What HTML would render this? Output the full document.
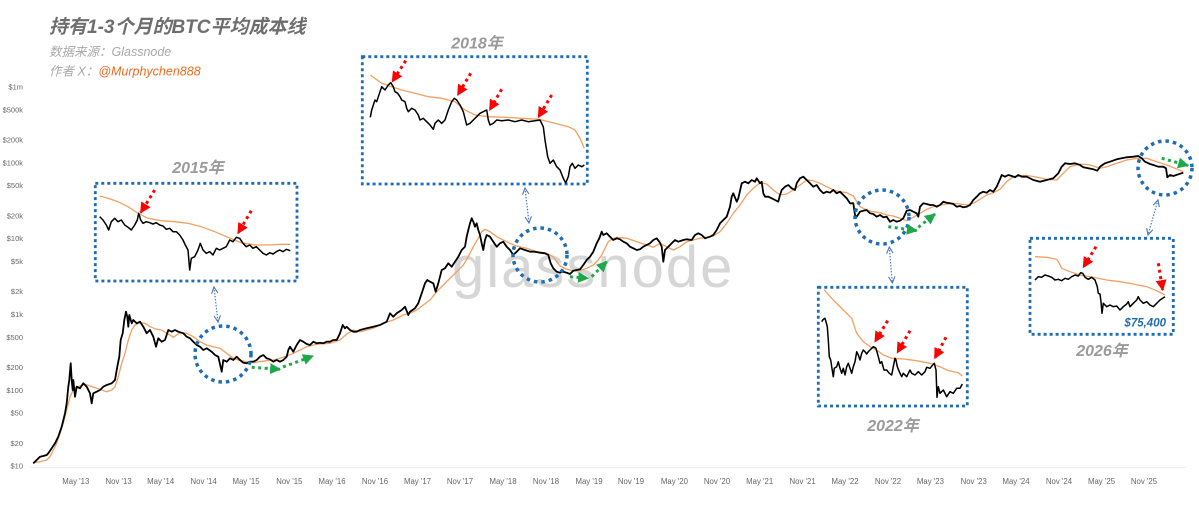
<!DOCTYPE html>
<html><head><meta charset="utf-8">
<style>
html,body{margin:0;padding:0;background:#fff;}
svg{display:block;}
.ti{font-family:"Liberation Sans","Noto Sans CJK SC",sans-serif;}
</style></head>
<body>
<svg width="1199" height="505" viewBox="0 0 1199 505" xmlns="http://www.w3.org/2000/svg">
<defs>
<marker id="rh" viewBox="0 0 10 10" refX="9" refY="5" markerWidth="11" markerHeight="11" markerUnits="userSpaceOnUse" orient="auto"><path d="M0,0 L10,5 L0,10 z" fill="#f00"/></marker>
<marker id="gh" viewBox="0 0 10 10" refX="9" refY="5" markerWidth="11" markerHeight="11" markerUnits="userSpaceOnUse" orient="auto"><path d="M0,0 L10,5 L0,10 z" fill="#1fa84a"/></marker>
<marker id="ch" viewBox="0 0 10 10" refX="9" refY="5" markerWidth="8" markerHeight="8" markerUnits="userSpaceOnUse" orient="auto-start-reverse"><path d="M1,1 L9,5 L1,9" fill="none" stroke="#4f78b5" stroke-width="1.4"/></marker>
</defs>
<rect width="1199" height="505" fill="#fff"/>

<!-- watermark -->
<text x="452" y="287" class="ti" font-size="58" letter-spacing="2" fill="#d6d6d6">glassnode</text>

<!-- title -->
<text x="49" y="33" class="ti" font-size="19" font-weight="bold" font-style="italic" fill="#6e6e6e">持有1-3个月的BTC平均成本线</text>
<text x="49" y="56" class="ti" font-size="12.5" font-style="italic" fill="#a9a9a9">数据来源：Glassnode</text>
<text x="49" y="75.5" class="ti" font-size="12.5" font-style="italic" fill="#a9a9a9">作者 X：<tspan fill="#f26a1f">@Murphychen888</tspan></text>

<!-- y axis -->
<g class="ti" font-size="7.5" fill="#666" text-anchor="end">
<text x="23" y="89.5">$1m</text>
<text x="23" y="112.5">$500k</text>
<text x="23" y="142.5">$200k</text>
<text x="23" y="165.5">$100k</text>
<text x="23" y="188">$50k</text>
<text x="23" y="218.5">$20k</text>
<text x="23" y="241">$10k</text>
<text x="23" y="264">$5k</text>
<text x="23" y="294">$2k</text>
<text x="23" y="317">$1k</text>
<text x="23" y="340">$500</text>
<text x="23" y="370">$200</text>
<text x="23" y="393">$100</text>
<text x="23" y="415.5">$50</text>
<text x="23" y="446">$20</text>
<text x="23" y="468.5">$10</text>
</g>
<line x1="30" y1="467.5" x2="1186" y2="467.5" stroke="#efefef" stroke-width="1"/>

<!-- x axis -->
<g class="ti" font-size="7.8" fill="#666" text-anchor="middle">
<text x="75.8" y="484">May '13</text>
<text x="118.6" y="484">Nov '13</text>
<text x="160.7" y="484">May '14</text>
<text x="203.6" y="484">Nov '14</text>
<text x="246" y="484">May '15</text>
<text x="289.3" y="484">Nov '15</text>
<text x="332" y="484">May '16</text>
<text x="375" y="484">Nov '16</text>
<text x="417.5" y="484">May '17</text>
<text x="460" y="484">Nov '17</text>
<text x="503" y="484">May '18</text>
<text x="546" y="484">Nov '18</text>
<text x="589" y="484">May '19</text>
<text x="631" y="484">Nov '19</text>
<text x="674.4" y="484">May '20</text>
<text x="717" y="484">Nov '20</text>
<text x="759.7" y="484">May '21</text>
<text x="802.6" y="484">Nov '21</text>
<text x="845" y="484">May '22</text>
<text x="888" y="484">Nov '22</text>
<text x="930.4" y="484">May '23</text>
<text x="973.7" y="484">Nov '23</text>
<text x="1016" y="484">May '24</text>
<text x="1059" y="484">Nov '24</text>
<text x="1101.5" y="484">May '25</text>
<text x="1144" y="484">Nov '25</text>
</g>

<!-- main orange -->
<polyline fill="none" stroke="#f3a061" stroke-width="1.3" stroke-linejoin="round" points="33.3,462.7 40,461.7 46.7,460 50,456.7 53.3,450 56.7,443.3 60,433.3 63.3,423.3 66.7,410 70,396.7 73.3,390 76.7,386.7 80,386 85,384.3 90,386 96.7,388.3 101.7,390 106.7,391.7 111.7,390 115,386.7 118.3,376.7 121.7,363.3 125,353.3 128.3,340 131.7,330 135,325 140,322.7 145,323.3 150,326.7 156.7,329.3 161.7,330 166.7,333.3 170,335 173.3,337.3 176.7,335 180,332.7 186.7,333.3 193.3,336.7 200,341.7 206.7,345 213.3,346.7 220,348.3 226.7,353.3 233.3,358.3 240,360.7 246.7,361.7 253.3,362.7 260,361.7 266.7,360.7 273.3,360 280,358.3 286.7,356 293.3,353.3 300,350 306.7,346.7 313.3,345 320,344 330,343.3 340,340 346.7,334 353.3,330 360,331.7 366.7,330 373.3,328.3 383.3,323.3 393.3,320 403.3,315 410,313.3 416.7,310 423.3,305 430,300 436.7,291.7 443.3,285 450,278.3 456.7,271.7 463.3,265 468.3,256.7 473.3,246.7 478.3,238.3 481.7,231.7 485,229.3 490,231.7 496.7,236.7 503.3,240 510,243.3 516.7,246 526.7,248.3 536.7,251.7 546.7,253.3 553.3,256.7 556.7,261.7 560,266 566.7,269.3 573.3,270.7 580,270.7 586.7,268.3 593.3,265 598.3,260 601.7,255 605,248.3 608.3,241.7 611.7,239.3 616.7,237.3 626.7,238.3 636.7,241.7 646.7,245 653.3,247.3 660,243.5 666.7,246.7 673.3,250 680,246.7 686.7,241.7 693.3,240 700,238.3 706.7,237.3 713.3,236 720,231.7 726.7,223.3 733.3,213.3 740,205 746.7,195 753.3,188.3 760,182.7 766.7,184 773.3,190 780,195 786.7,194 793.3,190 800,185 806.7,180 813.3,180.7 820,183.3 826.7,186.7 833.3,190 840,191.7 846.7,192.7 853.3,196 860,206.7 866.7,210 873.3,211.7 880,212.7 886.7,215 893.3,216 900,218.3 906.7,220.7 913.3,217.3 920,213.3 926.7,209.3 933.3,206.7 940,205 946.7,204 953.3,203.3 960,204 966.7,205 973.3,203.3 980,199.3 986.7,195 993.3,192.7 1000,189.3 1006.7,181.7 1013.3,176.7 1020,175.5 1026.7,175.5 1033.3,176.5 1046.7,179.3 1056.7,180 1063.3,173.3 1070,166.7 1080,164 1090,165 1100,168.3 1106.7,166.7 1116.7,163.3 1126.7,160 1136.7,158.3 1146.7,158.3 1156.7,161.7 1166.7,165 1175,168.3 1183.3,171.7"/>

<!-- main black -->
<polyline fill="none" stroke="#000" stroke-width="1.8" stroke-linejoin="round" points="33.3,463.3 36.7,460 40,456.7 43.3,456 46.7,455 48.3,453.3 51.7,448.3 55,443.3 58.3,436.7 61.7,426.7 65,413.3 66.7,403.3 68.3,386.7 69.3,380 70.7,363.3 71.7,380 72.7,390 73.3,380 75,396.7 76.7,386.7 80,388.3 83.3,383.3 86.7,386.7 90,393.3 91.7,403.3 93.3,393.3 96.7,391.7 100,390 103.3,386.7 106.7,385 111.7,383.3 115,380 117.3,366.7 119.3,356.7 120.7,340 122.7,333.3 124.3,320 126,311.7 127.3,316.7 128.3,326.7 129.3,315 131.7,323.3 133.3,320 136.7,323.3 140,321.7 143.3,326.7 146.7,333.3 150,330 153.3,336.7 156,346.7 158.3,338.3 161.7,341.7 165,340 168.3,330 171.7,331.7 175,330 178.3,331.7 183.3,333.3 186.7,336.7 190,338.3 193.3,341.7 196.7,345 200,346.7 203.3,350 206.7,348.3 211.7,351.7 215,355 218.3,356.7 221.7,371.7 223.3,360 226.7,361.7 230,358.3 233.3,360 236.7,356.7 240,360 243.3,362.7 246.7,363.3 250,361.7 253.3,361.7 256.7,360 260,356.7 263.3,355 266.7,358.3 270,359.3 273.3,361.7 276.7,360 280,361.7 283.3,360 286.7,356.7 288.3,350 290,346.7 293.3,351.7 296.7,345 300,340 303.3,341.7 306.7,344 310,345 313.3,341.7 316.7,343.3 320,342.7 323.3,343.3 326.7,341.7 330,341.7 333.3,340 336.7,340 340,333.3 342.7,325 345,328.3 346.7,326.7 350,330 353.3,331.7 356.7,331.7 360,330 366.7,328.3 373.3,326.7 380,325 386.7,321.7 390,313.3 393.3,316.7 396.7,313.3 401.7,310 405,306.7 408.3,315 410,311.7 415,308.3 418.3,303.3 421.7,293.3 425,283.3 427.3,280 430,281.7 433.3,283.3 435.7,291.7 438.3,283.3 440,276.7 441.7,270 445,268.3 448.3,263.3 451.7,266.7 455,261.7 458.3,256.7 461.7,250 465,246.7 466.7,236.7 468.3,230 470,223.3 471.7,218.3 473.3,221.7 475,226.7 476.7,223.3 478.3,230 480,235 481.7,243.3 483.3,250 485,240 486.7,235 490,236.7 493.3,241.7 496.7,246.7 500,243.3 503.3,241.7 506.7,246.7 510,250 513.3,255 516.7,251.7 520,248.3 525,250 530,251.7 535,251.7 540,252.7 545,253.3 548.3,255 550.7,263.3 553.3,268.3 556.7,271.7 560,272.7 563.3,271.7 566.7,272.7 570,274 573.3,270.7 576.7,270 580,269.3 583.3,265 586.7,260 590,256.7 593.3,251.7 596.7,243.3 599.3,238.3 601.7,231.7 603.3,235 606.7,233.3 610,236.7 613.3,240 616.7,238.3 620,239.3 623.3,241.7 626.7,243.3 630,246.7 633.3,248.3 636.7,250 640,249.3 643.3,246.7 646.7,245 650,243.3 653.3,240 656.7,238.3 660,242.7 661.7,246.7 663.3,261.7 665,250 668.3,246.7 671.7,243.3 675,240 678.3,241.7 683.3,240 686.7,239.3 691.7,240 695,235 698.3,233.3 701.7,235 705,238.3 710,236.7 713.3,235 716.7,230 720,223.3 723.3,220 726.7,216.7 730,206.7 731.7,196.7 733.3,193.3 736.7,201.7 738.3,198.3 741.7,183.3 745,181.7 748.3,183.3 751.7,180 755,181.7 756.7,178.3 760,183.3 761.7,181.7 763.3,193.3 765,196.7 768.3,196.7 771.7,198.3 775,200 778.3,201.7 780,195 781.7,190 785,186.7 788.3,185 791.7,188.3 795,190 796.7,183.3 800,178.3 803.3,176.7 806.7,180 810,183.3 813.3,186.7 816.7,185 820,190 823.3,193.3 826.7,191.7 830,192.7 833.3,190 836.7,193.3 840,191.7 843.3,195 846.7,198.3 850,203.3 853.3,203.3 855,215 856.7,216.7 860,211.7 863.3,210.7 866.7,210 870,213.3 873.3,214 876.7,216.7 880,215 883.3,217.3 886.7,216.7 890,221.7 893.3,220 896.7,221.7 900,220.7 903.3,218.3 906.7,210.7 910,210 913.3,211.7 916.7,213.3 918.3,216.7 920,206.7 923.3,203.3 926.7,204 930,205 933.3,205 936.7,206.7 940,205 943.3,201.7 946.7,202.7 950,203.3 953.3,204 956.7,206.7 960,206 963.3,207.3 966.7,206.7 970,205 973.3,200 976.7,196.7 980,193.3 983.3,191.7 986.7,192.7 990,190 993.3,191.7 996.7,186.7 1000,179.3 1001.7,175 1005,176.7 1008.3,175 1011.7,176 1015,177.3 1018.3,175 1021.7,176.7 1026.7,176.7 1033.3,180 1040,181.7 1046.7,180 1053.3,178.3 1058.3,173.3 1061.7,166.7 1065,163.3 1070,164 1075,163.3 1080,165 1083.3,167.3 1088.3,168.3 1093.3,169.3 1097.3,170.7 1100,166.7 1105,163.3 1110,161.7 1116.7,159.3 1121.7,158.3 1126.7,157.3 1133.3,156.7 1138.3,156 1141.7,158.3 1145,161.7 1150,164 1153.3,165 1158.3,166.7 1163.3,166.7 1166,168.3 1167.3,177.3 1170,175 1173.3,176 1178.3,174.3 1183.3,172.7"/>

<!-- circles -->
<g fill="none" stroke="#1f6db3" stroke-width="3.5" stroke-dasharray="3.5 4">
<circle cx="223" cy="354" r="28"/>
<circle cx="540" cy="255" r="27"/>
<circle cx="882" cy="217" r="27"/>
<circle cx="1165" cy="168" r="27"/>
</g>

<!-- connectors -->
<g stroke="#4f78b5" stroke-width="1.2" stroke-dasharray="1.5 1.5" fill="none" marker-start="url(#ch)" marker-end="url(#ch)">
<line x1="214" y1="287" x2="218" y2="322"/>
<line x1="525" y1="188" x2="529" y2="223"/>
<line x1="889.3" y1="247" x2="892.3" y2="283"/>
<line x1="1158" y1="200" x2="1148" y2="235"/>
</g>

<!-- green arrows -->
<g stroke="#1fa84a" stroke-width="3" stroke-dasharray="3 3.5" fill="none" marker-end="url(#gh)">
<line x1="251.7" y1="367.3" x2="280" y2="369.3"/>
<line x1="283" y1="367" x2="313" y2="356"/>
<line x1="570" y1="276.7" x2="588" y2="278.3"/>
<line x1="591.7" y1="276.7" x2="606.7" y2="261.7"/>
<line x1="888.3" y1="226.7" x2="916.7" y2="230.7"/>
<line x1="918.3" y1="227.3" x2="935" y2="214"/>
<line x1="1161.7" y1="158.3" x2="1188" y2="165.5"/>
</g>

<!-- inset boxes -->
<g fill="#fff" stroke="#1f6db3" stroke-width="2.8" stroke-dasharray="3 3">
<rect x="95.3" y="183.3" width="201.7" height="97.7"/>
<rect x="362.3" y="56.7" width="225" height="127.3"/>
<rect x="818.3" y="287.3" width="149" height="118.7"/>
<rect x="1030" y="238.3" width="143.3" height="96"/>
</g>

<!-- 2015 inset -->
<polyline fill="none" stroke="#f3a061" stroke-width="1.3" points="99.7,196 108,198.3 118,201.7 128,206.7 138,213.3 148,218.3 161.3,220.7 174.7,221.7 188,223.3 201.3,226.7 214.7,231.7 228,237.3 241.3,242.7 254.7,245 268,245 281.3,244.3 290.3,244.3"/>
<polyline fill="none" stroke="#000" stroke-width="1.5" stroke-linejoin="round" points="99.7,216.7 103,220 106.3,225 108.7,230 111.3,221.7 114.7,218.3 118,221.7 121.3,220 124.7,225 128,227.3 131.3,230 134.7,225 137.3,220 138.7,213.3 140.7,220 143,223.3 146.3,221.7 149.7,222.7 153,224 156.3,222.7 159.7,225 163,226 166.3,229.3 169.7,228.3 173,231.7 176.3,231.7 179.7,235 183,240 185.3,245 188,250 189.7,270 191.3,258.3 194.7,256.7 198,250 200.3,243.3 203,250 206.3,253.3 209.7,251.7 213,255 216.3,248.3 219.7,250 223,248.3 226.3,246.7 229.7,240 233,241.7 236.3,237.3 239.7,238.3 243,243.3 246.3,246.7 249.7,245 253,248.3 256.3,246.7 259.7,250 263,253.3 266.3,255 269.7,252.7 273,254 276.3,251.7 279.7,250 283,251.7 286.3,249.3 290.3,250.7"/>

<!-- 2018 inset -->
<polyline fill="none" stroke="#f3a061" stroke-width="1.3" points="370.3,75 381.7,83.3 391.7,86.7 401.7,90 415,93.3 428.3,96.7 441.7,98.3 455,101.7 465,110 475,115 488.3,116.7 505,117.3 521.7,118.3 538.3,119.3 555,123.3 568.3,126.7 575,130 580,138.3 584.3,148.3"/>
<polyline fill="none" stroke="#000" stroke-width="1.5" stroke-linejoin="round" points="370.3,117.3 371.7,110 375,100 376.7,101.7 380,91.7 381.7,86.7 385,90 388.3,85 390.7,82.7 393.3,86.7 395,91.7 397.7,93.3 400,96.7 401.7,100 405,101.7 406.7,108.3 408.3,111.7 411.7,108.3 415,110 418.3,115 420,120 423.3,118.3 426.7,121.7 430,125 433.3,129.3 435,123.3 438.3,120 441.7,123.3 445,120 448.3,110 451.7,101.7 454.3,98.3 456.7,100 460,105 463.3,111.7 466.7,125 470,123.3 473.3,120 476.7,116.7 480,113.3 483.3,111.7 486.7,110 488.3,120 490,125 493.3,123.3 496.7,120 501.7,120.7 508.3,120 515,121.7 521.7,120 528.3,121.7 535,120.7 540,120 543.3,126.7 545,140 547.7,156.7 550,163.3 553.3,160 556.7,166.7 560,170 563.3,178.3 565.7,183 568.3,176.7 570,166.7 572.3,163.3 575,168.3 578.3,165 581.7,166.7 584.3,165"/>

<!-- 2022 inset -->
<polyline fill="none" stroke="#f3a061" stroke-width="1.3" points="824.3,290 833.3,300 843.3,310 851.7,318.3 856.7,333.3 863.3,341.7 870,346.7 876.7,350 883.3,355 891.7,358.3 903.3,359 916.7,360.7 930,363.3 940,366.7 946.7,370 953.3,371.7 958.3,372.7 962.3,376"/>
<polyline fill="none" stroke="#000" stroke-width="1.5" stroke-linejoin="round" points="821.7,321.7 823.3,319.3 825,318.3 826,321.7 827.3,326.7 828.3,340 829.3,356.7 830.7,360 831.7,366.7 833.3,376.7 834.3,368.3 836.7,366.7 838.3,361.7 840,368.3 841.7,373.3 843.3,368.3 845,375 846.7,366.7 848.3,363.3 850,368.3 851.7,373.3 853.3,366.7 855,361.7 856.7,351.7 858.3,355 860,360 861.7,353.3 863.3,350 865,351.7 866.7,354 868.3,351.7 870,350 873.3,346.7 876,348.3 878.3,356.7 880,363.3 881.7,361.7 884,370 886.7,370 889.3,373.3 891.7,375 893.3,366.7 895,358.3 896,360 897.3,366.7 899.3,371.7 901.7,376.7 903.3,373.3 906.7,376.7 910,370 911.7,373.3 915,375 918.3,371.7 921.7,375 925,371.7 926.7,367.3 930,368.3 932.7,365 934.3,363.3 936,370 937,397.3 938.3,386.7 940,393.3 943.3,390 946.7,396.7 950,391.7 953.3,393.3 956.7,388.3 960,388.3 962.3,384"/>

<!-- 2026 inset -->
<polyline fill="none" stroke="#f3a061" stroke-width="1.3" points="1035,256.7 1046.7,257.3 1056.7,259.3 1059.3,263.3 1061.7,268.3 1070,271.7 1080,275 1093.3,277.3 1106.7,280 1120,281.7 1133.3,284 1146.7,286.7 1156.7,290.7 1165,295"/>
<polyline fill="none" stroke="#000" stroke-width="1.5" stroke-linejoin="round" points="1035,280 1038.3,276.7 1041.7,277.3 1045,275 1048.3,276 1051.7,277.3 1055,280 1058.3,279.3 1061.7,280.7 1065,278.3 1068.3,279.3 1071.7,276.7 1075,275 1078.3,276 1080.7,272.7 1082.7,273.3 1085,277.3 1088.3,279.3 1091.7,277.3 1095,280 1097.3,286.7 1098.3,293.3 1100,294 1101,301.7 1102,313.3 1103.3,303.3 1106.7,306.7 1110,305 1113.3,306.7 1116.7,306 1120,310 1123.3,306.7 1126.7,304 1128.3,301.7 1130,306.7 1133.3,303.3 1136.7,300 1138.3,296.7 1140,300 1143.3,303.3 1146.7,301.7 1150,305 1153.3,306.7 1156.7,303.3 1160,300 1162.7,298.3 1165,296.7"/>

<!-- red arrows -->
<g stroke="#f00" stroke-width="3" stroke-dasharray="3 3.5" fill="none" marker-end="url(#rh)">
<line x1="154.7" y1="190" x2="140.7" y2="212.7"/>
<line x1="251.3" y1="210.7" x2="238" y2="233.3"/>
<line x1="405.7" y1="60.7" x2="392.3" y2="81.7"/>
<line x1="470.7" y1="73.3" x2="457.7" y2="95"/>
<line x1="501.7" y1="89.3" x2="489.7" y2="110"/>
<line x1="551.7" y1="95" x2="538.3" y2="117.3"/>
<line x1="887.7" y1="320.7" x2="875" y2="341.7"/>
<line x1="910" y1="330.7" x2="897.3" y2="352.7"/>
<line x1="946" y1="337.3" x2="934.7" y2="358.3"/>
<line x1="1096" y1="246.7" x2="1083.3" y2="267.3"/>
<line x1="1158.3" y1="263.3" x2="1162.7" y2="290"/>
</g>

<!-- year labels -->
<g class="ti" font-size="16" font-weight="bold" font-style="italic" fill="#9b9b9b" text-anchor="middle">
<text x="198" y="173">2015年</text>
<text x="477" y="48.5">2018年</text>
<text x="893" y="431">2022年</text>
<text x="1102" y="356">2026年</text>
</g>
<text x="1166" y="326.7" class="ti" font-size="11.5" font-weight="bold" font-style="italic" fill="#1f6db3" text-anchor="end">$75,400</text>
</svg>
</body></html>
